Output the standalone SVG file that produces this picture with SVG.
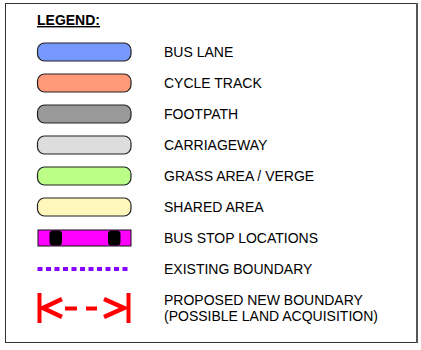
<svg xmlns="http://www.w3.org/2000/svg" width="421" height="350" viewBox="0 0 421 350">
<style>
.lz{stroke:#222;stroke-width:1.2}
.lbl{font-family:"Liberation Sans",Arial,sans-serif;font-size:14px;fill:#000}
.red{stroke:#ff0000;fill:none}
</style>
<rect x="0" y="0" width="421" height="350" fill="#fff"/>
<rect x="5.5" y="3.5" width="411.5" height="339" fill="#fff" stroke="#333" stroke-width="1"/>
<line x1="417" y1="3" x2="417" y2="343" stroke="#555" stroke-width="2"/>
<g id="title">
<text x="37" y="25" font-family="Liberation Sans,Arial,sans-serif" font-size="14" font-weight="bold" text-decoration="underline">LEGEND:</text>
</g>
<g id="bus-lane">
<rect class="lz" x="37.5" y="43" width="93.5" height="18" rx="7" fill="#7799ff"/>
<text class="lbl" x="164" y="56.5">BUS LANE</text>
</g>
<g id="cycle-track">
<rect class="lz" x="37.5" y="74" width="93.5" height="18" rx="7" fill="#ff9977"/>
<text class="lbl" x="164" y="87.5">CYCLE TRACK</text>
</g>
<g id="footpath">
<rect class="lz" x="37.5" y="105" width="93.5" height="18" rx="7" fill="#999999"/>
<text class="lbl" x="164" y="118.5">FOOTPATH</text>
</g>
<g id="carriageway">
<rect class="lz" x="37.5" y="136" width="93.5" height="18" rx="7" fill="#dddddd"/>
<text class="lbl" x="164" y="149.5">CARRIAGEWAY</text>
</g>
<g id="grass">
<rect class="lz" x="37.5" y="167" width="93.5" height="18" rx="7" fill="#bbff88"/>
<text class="lbl" x="164" y="180.5">GRASS AREA / VERGE</text>
</g>
<g id="shared">
<rect class="lz" x="37.5" y="198" width="93.5" height="18" rx="7" fill="#fff7bb"/>
<text class="lbl" x="164" y="211.5">SHARED AREA</text>
</g>
<g id="bus-stop">
<rect x="38" y="230" width="93" height="16" fill="#ff00ff" stroke="#111" stroke-width="1"/>
<rect x="49.5" y="230.5" width="12.5" height="15" rx="3.5" fill="#000"/>
<rect x="108" y="230.5" width="12.5" height="15" rx="3.5" fill="#000"/>
<text class="lbl" x="164" y="242.5">BUS STOP LOCATIONS</text>
</g>
<g id="existing-boundary">
<line x1="37.5" y1="269" x2="131" y2="269" stroke="#8800ff" stroke-width="4" stroke-dasharray="5 3.5"/>
<text class="lbl" x="164" y="274">EXISTING BOUNDARY</text>
</g>
<g id="proposed-boundary">
<line class="red" x1="39.5" y1="293" x2="39.5" y2="323" stroke-width="4"/>
<line class="red" x1="128.5" y1="293" x2="128.5" y2="323" stroke-width="4"/>
<polyline class="red" points="62,299 43,308 62,317" stroke-width="4.5"/>
<polyline class="red" points="104,299 124,308 104,317" stroke-width="4.5"/>
<line class="red" x1="45" y1="308.5" x2="123" y2="308.5" stroke-width="4" stroke-dasharray="0 20 12 9 11 9 0 100"/>
<text class="lbl" x="164" y="304.5">PROPOSED NEW BOUNDARY</text>
<text class="lbl" x="164" y="321">(POSSIBLE LAND ACQUISITION)</text>
</g>
</svg>
